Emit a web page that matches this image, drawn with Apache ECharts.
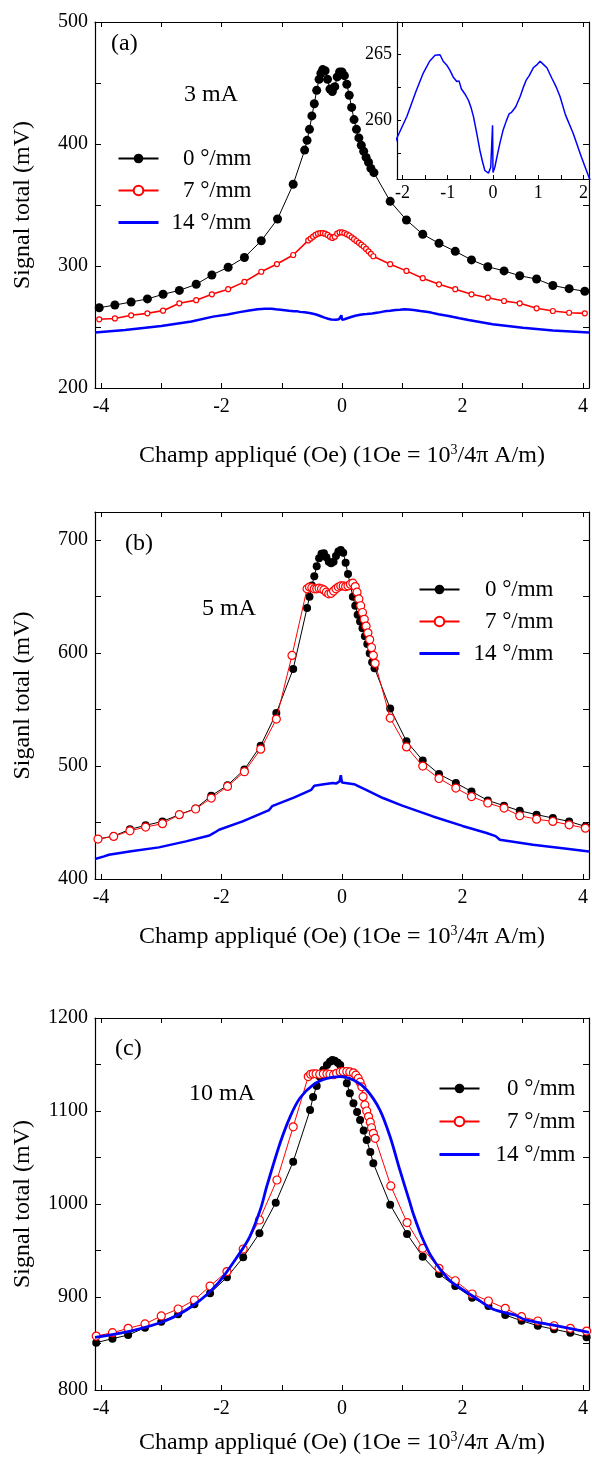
<!DOCTYPE html>
<html>
<head>
<meta charset="utf-8">
<script src="https://cdn.jsdelivr.net/npm/echarts@6/dist/echarts.min.js"></script>
<style>
html,body{margin:0;padding:0;background:#fff;}
#chart{width:592px;height:1464px;}
</style>
</head>
<body>
<div id="chart"></div>
<script>
// ---------- tick / label values ----------
const X_TICKS = [-4,-3,-2,-1,0,1,2,3,4];
const X_LABELS = [-4,-2,0,2,4];
const A_Y_TICKS = [200,250,300,350,400,450,500];
const A_Y_LABELS = [200,300,400,500];
const B_Y_TICKS = [400,450,500,550,600,650,700];
const B_Y_LABELS = [400,500,600,700];
const C_Y_TICKS = [800,850,900,950,1000,1050,1100,1150,1200];
const C_Y_LABELS = [800,900,1000,1100,1200];
const INSET_X_TICKS = [-2,-1.5,-1,-0.5,0,0.5,1,1.5,2];
const INSET_X_LABELS = [-2,-1,0,1,2];
const INSET_Y_TICKS = [257.5,260,262.5,265];
const INSET_Y_LABELS = [260,265];
const NAMES = ['0 °/mm','7 °/mm','14 °/mm'];

// ---------- panel (a) 3 mA ----------
const a_0mm = [[-4.03,265.8],[-3.77,268],[-3.50,270.5],[-3.23,273],[-2.97,276.8],[-2.70,280],[-2.42,285],[-2.16,292.6],[-1.89,299],[-1.62,307],[-1.34,320.7],[-1.07,338.5],[-0.81,367],[-0.62,395],[-0.58,403],[-0.54,412],[-0.50,423],[-0.46,433],[-0.42,444],[-0.38,453],[-0.35,458],[-0.32,461],[-0.28,460],[-0.24,453],[-0.20,445],[-0.16,443],[-0.12,447],[-0.08,455],[-0.04,459],[0.0,459],[0.04,456],[0.08,449],[0.12,440],[0.16,430],[0.20,420],[0.24,412],[0.28,405],[0.32,399],[0.36,394],[0.40,389],[0.44,385],[0.48,380],[0.53,376.5],[0.80,353],[1.07,337.7],[1.34,326],[1.61,318.6],[1.88,312],[2.15,305],[2.42,299.4],[2.69,296],[2.95,292],[3.23,289.3],[3.50,284],[3.77,281.4],[4.03,279.3]];
const a_7mm = [[-4.03,256.3],[-3.77,257],[-3.50,259.6],[-3.23,261.2],[-2.97,263.4],[-2.70,269.4],[-2.42,272],[-2.16,276.8],[-1.89,281],[-1.62,287],[-1.34,295.3],[-1.08,301.6],[-0.81,309],[-0.56,321],[-0.52,322.5],[-0.48,324],[-0.44,325.5],[-0.40,326.5],[-0.36,327],[-0.32,327],[-0.28,326.5],[-0.24,325.5],[-0.20,324],[-0.16,323],[-0.12,324],[-0.08,326.5],[-0.04,327.5],[0,327.5],[0.04,327],[0.08,326],[0.12,325],[0.16,323.5],[0.20,322],[0.24,320.5],[0.28,319],[0.32,317.5],[0.36,316],[0.40,314],[0.44,312],[0.48,310],[0.52,308],[0.80,301.5],[1.07,296],[1.34,290],[1.61,285],[1.88,281],[2.15,276.8],[2.42,274],[2.69,271.3],[2.95,269.4],[3.23,265.3],[3.50,263.1],[3.77,261.7],[4.03,261.2]];
const a_14mm = [[-4.1,245.5],[-3.6,247.5],[-3.0,250.8],[-2.5,254.5],[-2.14,258.5],[-1.9,260.3],[-1.7,262.2],[-1.54,263.6],[-1.4,264.5],[-1.28,264.95],[-1.17,265],[-1.1,264.5],[-1.02,264.2],[-0.95,263.8],[-0.88,263.3],[-0.80,262.95],[-0.75,263.0],[-0.70,262.4],[-0.62,262.0],[-0.54,261.5],[-0.48,260.9],[-0.43,260.25],[-0.36,259.0],[-0.29,257.7],[-0.23,256.8],[-0.18,256.15],[-0.10,255.95],[-0.05,256.4],[-0.01,259.6],[0.0,256.0],[0.04,256.4],[0.10,257.4],[0.15,258.2],[0.22,259.2],[0.30,260],[0.36,260.5],[0.41,260.6],[0.50,261.0],[0.60,261.8],[0.68,262.6],[0.74,263.1],[0.80,263.4],[0.89,264],[0.96,264.2],[1.04,264.5],[1.10,264.3],[1.19,264],[1.30,263.2],[1.40,262.5],[1.48,261.8],[1.6,260.4],[1.77,259],[1.95,257.2],[2.10,255.8],[2.5,252.3],[3.0,249.3],[3.5,247.2],[4.1,245.5]];

// ---------- panel (b) 5 mA ----------
const b_0mm = [[-4.05,435.4],[-3.79,438],[-3.52,444],[-3.26,447.5],[-2.98,451],[-2.70,457],[-2.43,462.5],[-2.17,473.7],[-1.90,483],[-1.62,497],[-1.35,518],[-1.09,547],[-0.81,586],[-0.58,640],[-0.54,650],[-0.50,660],[-0.46,668],[-0.42,677],[-0.38,684],[-0.34,688],[-0.30,688.5],[-0.26,685],[-0.22,681],[-0.18,679.6],[-0.14,681],[-0.10,686],[-0.06,690],[-0.02,691.4],[0.02,689],[0.06,680],[0.10,670],[0.14,660],[0.18,650],[0.22,642],[0.26,634],[0.30,628],[0.34,622],[0.38,615],[0.42,608],[0.46,600],[0.50,592],[0.54,586.7],[0.80,551],[1.07,522],[1.34,505],[1.61,493],[1.89,485],[2.15,477.5],[2.42,469.6],[2.69,464.9],[2.95,460.4],[3.23,457],[3.50,454],[3.77,451],[4.04,446.5]];
const b_7mm = [[-4.05,435.4],[-3.79,437.7],[-3.52,442.7],[-3.26,446],[-2.98,449],[-2.70,457],[-2.43,462],[-2.17,471.7],[-1.90,482],[-1.62,495],[-1.35,515],[-1.09,541.6],[-0.83,598],[-0.58,657],[-0.54,658.5],[-0.50,658],[-0.46,657],[-0.42,657],[-0.38,657.5],[-0.34,657],[-0.30,656],[-0.26,654],[-0.22,652.5],[-0.18,653],[-0.14,655],[-0.10,657],[-0.06,658.5],[-0.02,659.5],[0.02,659.5],[0.06,659],[0.10,659.5],[0.14,661],[0.18,662],[0.22,659],[0.25,654],[0.28,648],[0.31,642],[0.34,636],[0.37,630],[0.40,624],[0.43,618],[0.46,612],[0.49,605],[0.52,598],[0.55,591],[0.80,542.5],[1.07,517],[1.34,500],[1.61,489],[1.89,480.5],[2.15,473],[2.42,467.3],[2.69,462.8],[2.95,456],[3.23,453],[3.50,451],[3.77,448],[4.04,445]];
const b_14mm = [[-4.1,417.7],[-3.95,420],[-3.87,421.5],[-3.5,424.5],[-3.04,428],[-2.59,433.3],[-2.2,438.5],[-2.12,441],[-2.04,443.6],[-1.65,451],[-1.21,461],[-1.16,464.5],[-0.8,472],[-0.51,479],[-0.46,482.6],[-0.3,484],[-0.15,485],[-0.1,484.5],[-0.04,486.4],[-0.02,492],[0.0,485.5],[0.2,484],[0.4,479],[0.68,471.7],[1.0,465],[1.51,455.4],[2.0,447],[2.40,440.7],[2.55,438],[2.62,434.8],[3.17,430.4],[3.73,426.8],[4.1,424.4]];

// ---------- panel (c) 10 mA ----------
const c_0mm = [[-4.08,850.9],[-3.81,855.2],[-3.55,859.1],[-3.27,867],[-3.0,873.5],[-2.72,881.4],[-2.45,892.1],[-2.19,903.9],[-1.91,921.2],[-1.64,942.7],[-1.37,968.5],[-1.10,1001.4],[-0.81,1045.5],[-0.53,1101],[-0.48,1115],[-0.42,1127],[-0.37,1137],[-0.31,1144],[-0.25,1149.5],[-0.20,1153],[-0.16,1154.8],[-0.12,1154],[-0.07,1152],[-0.03,1149.5],[0.02,1140],[0.08,1129.8],[0.13,1119],[0.19,1108.3],[0.25,1099],[0.30,1090.3],[0.36,1079],[0.41,1068.8],[0.47,1056],[0.52,1043.8],[0.80,999.2],[1.08,967.7],[1.34,943.3],[1.61,924.7],[1.88,911.8],[2.16,899.3],[2.43,890.3],[2.71,880.6],[2.98,874.5],[3.25,869.1],[3.52,865.3],[3.79,861.6],[4.06,856.7]];
const c_7mm = [[-4.08,858],[-3.81,861.6],[-3.55,866.3],[-3.27,871],[-3.0,879.6],[-2.72,887.1],[-2.45,896.8],[-2.19,911.8],[-1.91,927.3],[-1.64,951.6],[-1.37,982.8],[-1.08,1025.8],[-0.81,1083],[-0.56,1137],[-0.52,1139.5],[-0.48,1140],[-0.43,1140],[-0.37,1139.5],[-0.31,1140],[-0.25,1140],[-0.20,1139.5],[-0.14,1139],[-0.09,1140.5],[-0.03,1142],[0.02,1142.5],[0.08,1142.5],[0.13,1142],[0.19,1141],[0.23,1138.5],[0.27,1135],[0.30,1131],[0.33,1126],[0.35,1115.4],[0.38,1106.5],[0.41,1100],[0.44,1094],[0.47,1088],[0.49,1082],[0.52,1076],[0.55,1070.6],[0.81,1019.4],[1.08,980],[1.34,952.3],[1.61,930.8],[1.88,917.5],[2.16,903.2],[2.43,895.7],[2.71,887.8],[2.98,878.8],[3.25,874.2],[3.52,869.1],[3.79,866.3],[4.06,863.4]];
const c_14mm = [[-4.1,856.6],[-3.51,863.4],[-2.93,874.5],[-2.46,891.4],[-2.06,914.7],[-1.70,947],[-1.53,965],[-1.35,995],[-1.25,1018.6],[-1.03,1065],[-0.86,1094],[-0.70,1113.7],[-0.48,1128],[-0.25,1135],[-0.03,1137],[0.19,1133.3],[0.41,1122.6],[0.63,1101],[0.80,1072],[0.96,1036.6],[1.12,1003],[1.18,990],[1.30,968.5],[1.35,961],[1.47,945],[1.64,929],[1.81,916.5],[2.20,899.7],[2.51,886.8],[2.87,880.6],[3.05,875.3],[3.49,869.9],[4.1,862]];

// ---------- build ----------
const FONT = 'Liberation Serif';
const BLACK = '#000000', RED = '#ff0000', BLUE = '#0000ff';
const chart = echarts.init(document.getElementById('chart'), null, {renderer:'canvas'});
const plain = v => String(v);

const panels = [
  {top:22, height:366, ymin:200, ymax:500, yt:A_Y_TICKS, yl:A_Y_LABELS, yname:'Signal total (mV)', xgap:55},
  {top:512, height:367, ymin:400, ymax:725, yt:B_Y_TICKS, yl:B_Y_LABELS, yname:'Siganl total (mV)', xgap:45},
  {top:1018, height:372, ymin:800, ymax:1200, yt:C_Y_TICKS, yl:C_Y_LABELS, yname:'Signal total (mV)', xgap:40}
];
const grids = [], xAxes = [], yAxes = [];
const axisLine = {show:true, onZero:false, lineStyle:{color:BLACK, width:1.2}};
const xName = '{t|Champ appliqué (Oe) (1Oe = 10}{s|3}{t|/4π A/m)}';
panels.forEach((p,i)=>{
  grids.push({left:95, top:p.top, width:494, height:p.height, show:false});
  xAxes.push({type:'value', gridIndex:i, position:'bottom', min:-4.1, max:4.1,
    axisLine, axisTick:{inside:true, length:5, customValues:X_TICKS, lineStyle:{color:BLACK}},
    axisLabel:{customValues:X_LABELS, color:BLACK, fontSize:20, fontFamily:FONT, margin:9, formatter:plain},
    splitLine:{show:false},
    name:xName, nameLocation:'middle', nameGap:p.xgap,
    nameTextStyle:{rich:{t:{fontFamily:FONT, fontSize:24, color:BLACK, lineHeight:26},
                         s:{fontFamily:FONT, fontSize:14, color:BLACK, verticalAlign:'top', lineHeight:26}}}});
  xAxes.push({type:'value', gridIndex:i, position:'top', min:-4.1, max:4.1,
    axisLine, axisTick:{inside:true, length:5, customValues:X_TICKS, lineStyle:{color:BLACK}},
    axisLabel:{show:false}, splitLine:{show:false}});
  yAxes.push({type:'value', gridIndex:i, position:'left', min:p.ymin, max:p.ymax,
    axisLine, axisTick:{inside:true, length:6, customValues:p.yt, lineStyle:{color:BLACK}},
    axisLabel:{customValues:p.yl, color:BLACK, fontSize:20, fontFamily:FONT, margin:7, formatter:plain},
    splitLine:{show:false},
    name:p.yname, nameLocation:'middle', nameGap:60,
    nameTextStyle:{fontFamily:FONT, fontSize:24, color:BLACK}});
  yAxes.push({type:'value', gridIndex:i, position:'right', min:p.ymin, max:p.ymax,
    axisLine, axisTick:{inside:true, length:6, customValues:p.yt, lineStyle:{color:BLACK}},
    axisLabel:{show:false}, splitLine:{show:false}});
});
// inset grid (index 3)
grids.push({left:397, top:22, width:192, height:157, show:true, backgroundColor:'#fff', borderWidth:0});
xAxes.push({type:'value', gridIndex:3, position:'bottom', min:-2.12, max:2.12,
  axisLine, axisTick:{inside:true, length:4, customValues:INSET_X_TICKS, lineStyle:{color:BLACK}},
  axisLabel:{customValues:INSET_X_LABELS, color:BLACK, fontSize:18, fontFamily:FONT, margin:5, formatter:plain},
  splitLine:{show:false}});
yAxes.push({type:'value', gridIndex:3, position:'left', min:255.5, max:267.5,
  axisLine, axisTick:{inside:true, length:4, customValues:INSET_Y_TICKS, lineStyle:{color:BLACK}},
  axisLabel:{customValues:INSET_Y_LABELS, color:BLACK, fontSize:18, fontFamily:FONT, margin:5, formatter:plain},
  splitLine:{show:false}});

function blackSeries(data, xi, yi, size){
  return {name:NAMES[0], type:'line', xAxisIndex:xi, yAxisIndex:yi, data, symbol:'circle', symbolSize:size,
    itemStyle:{color:BLACK}, lineStyle:{color:BLACK, width:1}, z:2};
}
function redSeries(data, xi, yi, size, lw){
  return {name:NAMES[1], type:'line', xAxisIndex:xi, yAxisIndex:yi, data, symbol:'circle', symbolSize:size,
    itemStyle:{color:'#fff', borderColor:RED, borderWidth:1.2}, lineStyle:{color:RED, width:lw}, z:3};
}
function blueSeries(data, xi, yi, lw, smooth){
  return {name:NAMES[2], type:'line', xAxisIndex:xi, yAxisIndex:yi, data, symbol:'none', smooth:smooth||false,
    itemStyle:{color:BLUE, opacity:0}, lineStyle:{color:BLUE, width:lw}, z:4};
}
const series = [
  blackSeries(a_0mm,0,0,9), redSeries(a_7mm,0,0,5,1.6), blueSeries(a_14mm,0,0,2.5),
  blackSeries(b_0mm,2,2,8), redSeries(b_7mm,2,2,8,1), blueSeries(b_14mm,2,2,2.5),
  blackSeries(c_0mm,4,4,8), redSeries(c_7mm,4,4,8,1), blueSeries(c_14mm,4,4,2.8,0.3),
  {name:'inset', type:'line', xAxisIndex:6, yAxisIndex:6, data:a_14mm, symbol:'none',
   lineStyle:{color:BLUE, width:1.5}, itemStyle:{color:BLUE}, z:5}
];

function legendAt(left, top, gap, w){
  return {data:[NAMES[0], NAMES[1], {name:NAMES[2], itemStyle:{opacity:0}, lineStyle:{color:BLUE, width:3}}],
    orient:'vertical', left, top, padding:0, itemWidth:40, itemHeight:12, itemGap:gap,
    selectedMode:false, formatter:n=>'{r|'+n+'}',
    textStyle:{color:BLACK, fontFamily:FONT, fontSize:23,
      rich:{r:{width:w, align:'right', fontFamily:FONT, fontSize:23, color:BLACK, lineHeight:22}}}};
}
const legends = [legendAt(117,147,9,88), legendAt(418,578,9,89), legendAt(438,1077,10,91)];

function txt(x, y, s){
  return {type:'text', left:x, top:y, style:{text:s, fontFamily:FONT, fontSize:24, fill:BLACK}};
}
const graphics = [
  txt(111,32,'(a)'), txt(184,83,'3 mA'),
  txt(125,532,'(b)'), txt(202,597,'5 mA'),
  txt(115,1037,'(c)'), txt(189,1082,'10 mA')
];

chart.setOption({
  animation:false,
  backgroundColor:'#fff',
  grid:grids, xAxis:xAxes, yAxis:yAxes, series, legend:legends, graphic:graphics
});
</script>
</body>
</html>
